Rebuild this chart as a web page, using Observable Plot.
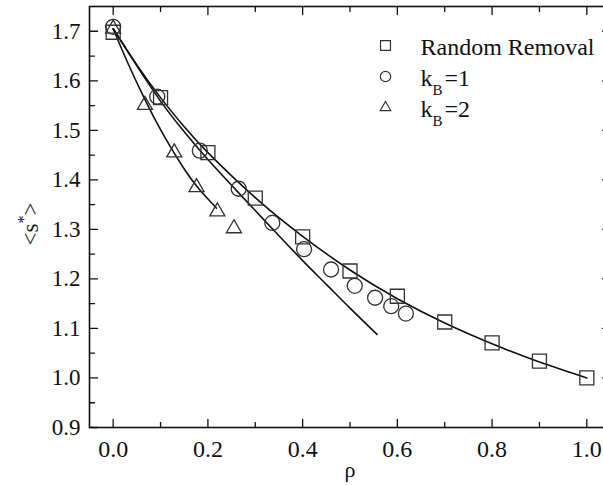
<!DOCTYPE html>
<html><head><meta charset="utf-8">
<script src="https://cdn.jsdelivr.net/npm/d3@7"></script>
<script src="https://cdn.jsdelivr.net/npm/@observablehq/plot@0.6"></script>
<style>body{margin:0;background:#fff} svg text{font-family:"Liberation Serif","Times New Roman",serif !important;font-variant-numeric:normal !important;}</style>
</head><body><div id="chart"></div>
<script>
// ---- data ----
const rrX = [0, 0.1, 0.2, 0.3, 0.4, 0.5, 0.6, 0.7, 0.8, 0.9, 1.0];
const rrY = [1.698, 1.566, 1.455, 1.363, 1.285, 1.216, 1.165, 1.113, 1.071, 1.034, 1.0];
const k1X = [0, 0.093, 0.183, 0.265, 0.336, 0.403, 0.46, 0.51, 0.553, 0.587, 0.618];
const k1Y = [1.709, 1.568, 1.459, 1.382, 1.313, 1.26, 1.219, 1.186, 1.162, 1.145, 1.13];
const k2X = [0, 0.067, 0.129, 0.176, 0.22, 0.255];
const k2Y = [1.705, 1.551, 1.455, 1.385, 1.336, 1.302];

const fitRRX = [0, 0.05, 0.1, 0.15, 0.2, 0.3, 0.4, 0.5, 0.6, 0.7, 0.8, 0.9, 1.0];
const fitRRY = [1.705, 1.632, 1.566, 1.507, 1.455, 1.364, 1.286, 1.218, 1.160, 1.111, 1.069, 1.032, 1.000];
const fitK1X = [0, 0.05, 0.1, 0.15, 0.2, 0.25, 0.3, 0.35, 0.4, 0.45, 0.5, 0.557];
const fitK1Y = [1.705, 1.630, 1.559, 1.497, 1.441, 1.389, 1.338, 1.287, 1.237, 1.189, 1.141, 1.088];
const fitK2X = [0, 0.03, 0.06, 0.09, 0.12, 0.15, 0.18, 0.218];
const fitK2Y = [1.705, 1.638, 1.576, 1.519, 1.468, 1.422, 1.383, 1.343];

const xMajor = [0, 0.2, 0.4, 0.6, 0.8, 1.0];
const xMinor = [0.1, 0.3, 0.5, 0.7, 0.9];
const yMajor = [0.9, 1.0, 1.1, 1.2, 1.3, 1.4, 1.5, 1.6, 1.7];
const yMinor = [0.95, 1.05, 1.15, 1.25, 1.35, 1.45, 1.55, 1.65];
const legendLabels = ["Random Removal", "k_B=1", "k_B=2"];
const legendSymbols = ["square", "circle", "triangle"];
const xLabel = "ρ";
const yLabel = "<s*>";

// ---- build ----
const zip = (xs, ys) => xs.map((x, i) => ({x, y: ys[i]}));
const rr = zip(rrX, rrY), k1 = zip(k1X, k1Y), k2 = zip(k2X, k2Y);
const fRR = zip(fitRRX, fitRRY), fK1 = zip(fitK1X, fitK1Y), fK2 = zip(fitK2X, fitK2Y);

const FONT = "'Liberation Serif', 'Times New Roman', serif";
const tickShape = {draw(ctx, l) { ctx.moveTo(0, 0); ctx.lineTo(0, -l); }};
const tickMark = (data, ch, anchor, rotate, len) => Plot.vector(data, {
  [ch]: d => d, frameAnchor: anchor, rotate, length: len, anchor: "start",
  shape: tickShape, stroke: "#111", strokeWidth: 1.3
});

const markerStroke = "#333";
const symR = {square: 7.9, circle: 7.5, triangle: 5.6};
const legR = {square: 5.6, circle: 5.2, triangle: 3.9};
const legX = 296, legTextX = 331, legTop = 39, legGap = 31;

const legendMarks = legendLabels.flatMap((lab, i) => [
  Plot.dot([lab], {frameAnchor: "top-left", dx: legX, dy: legTop + i * legGap,
    symbol: legendSymbols[i], r: legR[legendSymbols[i]], stroke: markerStroke, strokeWidth: 1.2, fill: "none"}),
  Plot.text([lab], {text: d => d, frameAnchor: "top-left", dx: legTextX, dy: legTop + 2 + i * legGap,
    textAnchor: "start", lineAnchor: "middle", fontSize: 24, fill: "#111"})
]);

const chart = Plot.plot({
  width: 603, height: 485,
  marginLeft: 89, marginRight: -7, marginTop: 6, marginBottom: 58,
  x: {domain: [-0.05, 1.05]},
  y: {domain: [0.9, 1.75]},
  style: {fontFamily: FONT, fontSize: "24px", color: "#111", background: "#fff"},
  marks: [
    Plot.line(fRR, {x: "x", y: "y", curve: "natural", stroke: "#111", strokeWidth: 1.6}),
    Plot.line(fK1, {x: "x", y: "y", curve: "natural", stroke: "#111", strokeWidth: 1.6}),
    Plot.line(fK2, {x: "x", y: "y", curve: "natural", stroke: "#111", strokeWidth: 1.6}),
    Plot.dot(rr, {x: "x", y: "y", symbol: "square", r: symR.square, stroke: markerStroke, strokeWidth: 1.3, fill: "none"}),
    Plot.dot(k1, {x: "x", y: "y", symbol: "circle", r: symR.circle, stroke: markerStroke, strokeWidth: 1.3, fill: "none"}),
    Plot.dot(k2, {x: "x", y: "y", symbol: "triangle", r: symR.triangle, stroke: markerStroke, strokeWidth: 1.3, fill: "none"}),
    tickMark(xMajor, "x", "bottom", 0, 8),
    tickMark(xMinor, "x", "bottom", 0, 5),
    tickMark(xMajor, "x", "top", 180, 8),
    tickMark(xMinor, "x", "top", 180, 5),
    tickMark(yMajor, "y", "left", 90, 8),
    tickMark(yMinor, "y", "left", 90, 5),
    tickMark(yMajor, "y", "right", -90, 8),
    tickMark(yMinor, "y", "right", -90, 5),
    Plot.axisX({ticks: xMajor, tickSize: 0, tickPadding: 12, tickFormat: d3.format(".1f"), label: null, fontSize: 24, fontFamily: FONT}),
    Plot.axisY({ticks: yMajor, tickSize: 0, tickPadding: 9, tickFormat: d3.format(".1f"), label: null, fontSize: 23, fontFamily: FONT}),
    Plot.frame({stroke: "#111", strokeWidth: 1.6}),
    Plot.text([xLabel], {text: d => d, frameAnchor: "bottom", dx: 0, dy: 42, textAnchor: "middle", lineAnchor: "middle", fontSize: 22}),
    Plot.text([yLabel], {text: d => d, frameAnchor: "left", dx: -59, dy: 7, rotate: -90, textAnchor: "middle", lineAnchor: "middle", fontSize: 23}),
    ...legendMarks
  ]
});

// rich text: subscripts / superscripts, and force the serif face
d3.select(chart).selectAll("text").attr("font-family", FONT).each(function() {
  const t = this.textContent;
  const el = d3.select(this);
  if (t.includes("_")) {
    const [base, rest] = t.split("_");
    el.text(null);
    el.append("tspan").text(base);
    el.append("tspan").attr("font-size", "15px").attr("dy", "9").text(rest[0]);
    el.append("tspan").attr("dy", "-9").attr("dx", "2").text(rest.slice(1));
  } else if (t === "<s*>") {
    el.text(null);
    el.append("tspan").text("<s");
    el.append("tspan").attr("font-size", "16px").attr("dy", "-9").text("*");
    el.append("tspan").attr("dy", "9").text(">");
  }
});

document.getElementById("chart").appendChild(chart);
</script>
</body></html>
